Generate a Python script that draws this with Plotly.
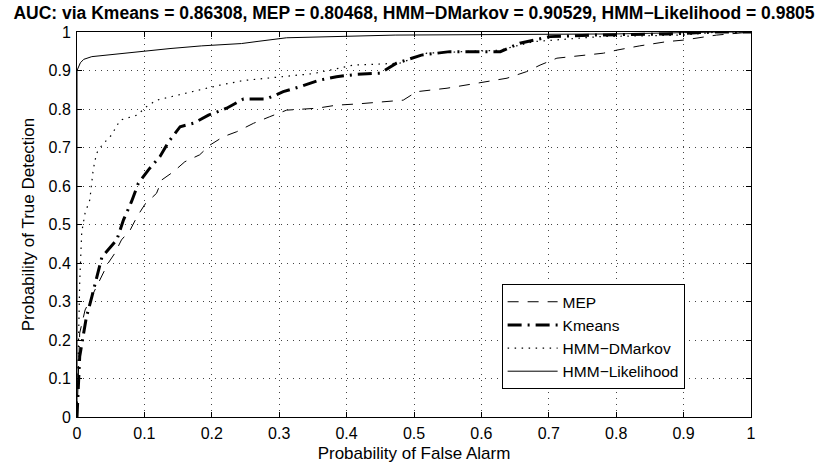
import plotly.graph_objects as go

# ROC curve samples (false-alarm rate, true-detection rate)
mep_x = [0, 0.002, 0.004, 0.012, 0.024, 0.034, 0.046, 0.056, 0.066, 0.079, 0.089, 0.101,
         0.118, 0.126, 0.143, 0.160, 0.182, 0.197, 0.217, 0.237, 0.262, 0.286, 0.311, 0.356,
         0.385, 0.415, 0.484, 0.504, 0.549, 0.638, 0.667, 0.687, 0.712, 0.781, 0.801, 0.835,
         0.875, 0.900, 0.949, 1.0]
mep_y = [0, 0.114, 0.218, 0.278, 0.321, 0.356, 0.399, 0.425, 0.460, 0.486, 0.520, 0.553,
         0.581, 0.616, 0.637, 0.663, 0.681, 0.706, 0.728, 0.741, 0.763, 0.780, 0.797, 0.802,
         0.810, 0.813, 0.823, 0.845, 0.854, 0.880, 0.897, 0.914, 0.932, 0.945, 0.953, 0.964,
         0.975, 0.979, 0.992, 1.0]

kmeans_x = [0, 0.002, 0.004, 0.009, 0.014, 0.022, 0.029, 0.037, 0.059, 0.069, 0.081, 0.091,
            0.106, 0.123, 0.136, 0.153, 0.173, 0.195, 0.222, 0.247, 0.281, 0.306, 0.331, 0.360,
            0.385, 0.415, 0.450, 0.474, 0.511, 0.553, 0.628, 0.657, 0.702, 0.766, 0.875, 0.950,
            1.0]
kmeans_y = [0, 0.096, 0.157, 0.209, 0.260, 0.312, 0.364, 0.416, 0.460, 0.512, 0.560, 0.607,
            0.642, 0.676, 0.715, 0.754, 0.763, 0.784, 0.802, 0.826, 0.826, 0.845, 0.858, 0.875,
            0.884, 0.890, 0.893, 0.919, 0.940, 0.949, 0.949, 0.971, 0.988, 0.992, 0.995, 1.0,
            1.0]

dmarkov_x = [0, 0.002, 0.004, 0.007, 0.012, 0.019, 0.024, 0.029, 0.037, 0.051, 0.064, 0.089,
             0.103, 0.118, 0.148, 0.182, 0.212, 0.247, 0.296, 0.351, 0.410, 0.479, 0.519,
             0.578, 0.628, 0.677, 0.776, 0.900, 0.950, 1.0]
dmarkov_y = [0, 0.200, 0.350, 0.480, 0.530, 0.564, 0.642, 0.685, 0.706, 0.732, 0.771, 0.784,
             0.806, 0.823, 0.836, 0.849, 0.862, 0.874, 0.882, 0.892, 0.914, 0.919, 0.945,
             0.949, 0.953, 0.975, 0.988, 0.992, 1.0, 1.0]

likelihood_x = [0, 0, 0.005, 0.010, 0.022, 0.071, 0.093, 0.138, 0.185, 0.244, 0.270, 0.311,
                0.472, 0.800, 0.950, 1.0]
likelihood_y = [0, 0.900, 0.920, 0.929, 0.936, 0.945, 0.950, 0.957, 0.964, 0.970, 0.976,
                0.985, 0.992, 0.995, 1.0, 1.0]

ticks = [0, 0.1, 0.2, 0.3, 0.4, 0.5, 0.6, 0.7, 0.8, 0.9, 1]
tick_text = ["0", "0.1", "0.2", "0.3", "0.4", "0.5", "0.6", "0.7", "0.8", "0.9", "1"]

title_text = ("AUC: via Kmeans = 0.86308, MEP = 0.80468, "
              "HMM\u2212DMarkov = 0.90529, HMM\u2212Likelihood = 0.9805")

FONT = "Liberation Sans, Arial, Helvetica, sans-serif"

fig = go.Figure()
fig.add_trace(go.Scatter(x=mep_x, y=mep_y, mode="lines", name="MEP",
                         line=dict(color="black", width=1, dash="11px,9px")))
fig.add_trace(go.Scatter(x=kmeans_x, y=kmeans_y, mode="lines", name="Kmeans",
                         line=dict(color="black", width=3, dash="14px,6px,2px,6px")))
fig.add_trace(go.Scatter(x=dmarkov_x, y=dmarkov_y, mode="lines", name="HMM\u2212DMarkov",
                         line=dict(color="black", width=1.2, dash="1.5px,5.5px")))
fig.add_trace(go.Scatter(x=likelihood_x, y=likelihood_y, mode="lines",
                         name="HMM\u2212Likelihood",
                         line=dict(color="black", width=1)))

axis_common = dict(
    range=[0, 1], tickvals=ticks, ticktext=tick_text,
    showline=True, linecolor="black", linewidth=1, mirror="ticks",
    ticks="inside", ticklen=5, tickcolor="black",
    showgrid=True, gridcolor="#444444", griddash="1px,5px", gridwidth=1,
    zeroline=False, automargin=False,
    tickfont=dict(size=16, color="black", family=FONT),
)

fig.update_layout(
    width=817, height=468,
    margin=dict(l=77, r=66, t=32, b=51),
    paper_bgcolor="white", plot_bgcolor="white",
    font=dict(family=FONT, color="black", size=16),
    title=dict(text="<b>" + title_text + "</b>", x=0.5, xref="paper",
               y=1 - 13 / 468, yanchor="middle",
               font=dict(size=17.5, family=FONT, color="black")),
    xaxis=dict(title=dict(text="Probability of False Alarm", standoff=5,
                          font=dict(size=17)),
               ticklabelstandoff=2, **axis_common),
    yaxis=dict(title=dict(text="Probability of True Detection", standoff=9,
                          font=dict(size=17)),
               ticklabelstandoff=2, **axis_common),
    legend=dict(x=0.630, y=0.345, xanchor="left", yanchor="top",
                bgcolor="white", bordercolor="black", borderwidth=1,
                itemwidth=50, tracegroupgap=0,
                font=dict(size=15.5, family=FONT, color="black")),
    showlegend=True,
)

fig.write_html("out.html")
